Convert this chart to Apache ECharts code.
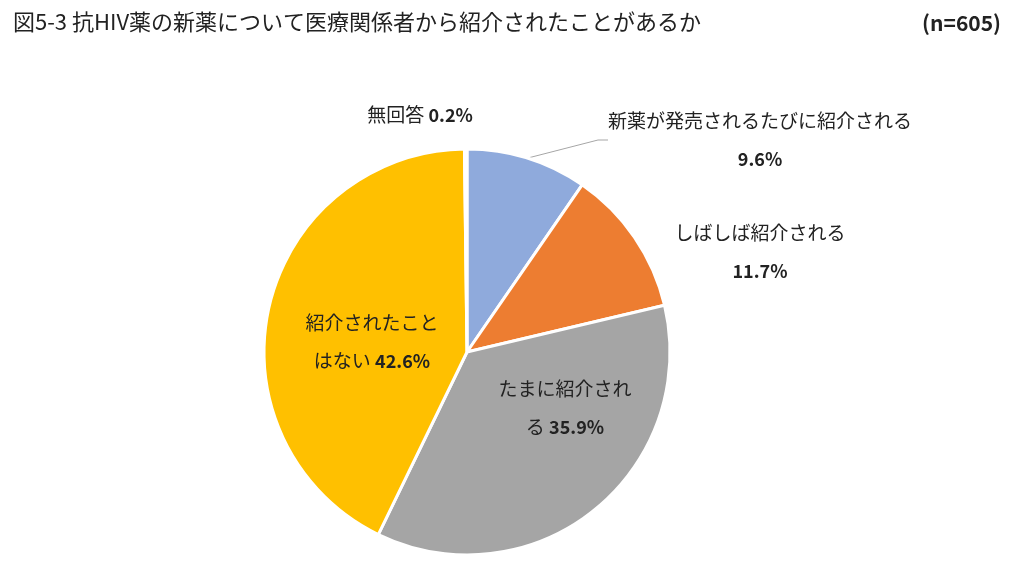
<!DOCTYPE html>
<html><head><meta charset="utf-8">
<script src="https://cdn.jsdelivr.net/npm/echarts@6/dist/echarts.min.js"></script>
<style>html,body{margin:0;background:#fff}#c{width:1024px;height:582px}</style>
</head><body><div id="c"></div>
<script>
const categories = ['新薬が発売されるたびに紹介される','しばしば紹介される','たまに紹介される','紹介されたことはない','無回答'];
const labelTexts = ['新薬が発売されるたびに紹介される\n','しばしば紹介される\n','たまに紹介され\nる ','紹介されたこと\nはない ','無回答 '];
const values = [9.6, 11.7, 35.9, 42.6, 0.2];
const colors = ['#8FAADC','#ED7D31','#A5A5A5','#FFC000','#4472C4'];
const labelPos = [[760,140],[760,252],[565,408],[372,342],[420,115]];
const font = '"Noto Sans CJK JP", sans-serif';
const chart = echarts.init(document.getElementById('c'));
chart.setOption({
  title:[{text:'図5-3 抗HIV薬の新薬について医療関係者から紹介されたことがあるか',left:8,top:6,textStyle:{fontFamily:font,fontSize:22,fontWeight:'normal',color:'#222'}},
         {text:'(n=605)',right:18,top:8,textStyle:{fontFamily:font,fontSize:21,fontWeight:'bold',color:'#222'}}],
  series:[{
    type:'pie', center:[467,352], radius:203, startAngle:90, clockwise:true,
    itemStyle:{borderColor:'#fff',borderWidth:3},
    data: categories.map((n,i)=>({name:n,value:values[i],itemStyle:{color:colors[i]},
      label:{position: (i===2||i===3)?'inside':'outside'},
      labelLine:{show:i===0,length:15,length2:10,lineStyle:{color:'#a6a6a6',width:1}}})),
    label:{
      formatter: p => labelTexts[p.dataIndex] + '{b|' + values[p.dataIndex].toFixed(1) + '%}',
      fontFamily:font, fontSize:19, color:'#222', lineHeight:38, align:'center',
      rich:{b:{fontFamily:font,fontSize:18,fontWeight:'bold',color:'#222',lineHeight:38}}
    },
    labelLayout: p => ({x:labelPos[p.dataIndex][0], y:labelPos[p.dataIndex][1], align:'center', verticalAlign:'middle', moveOverlap:false})
  }]
});
</script></body></html>
